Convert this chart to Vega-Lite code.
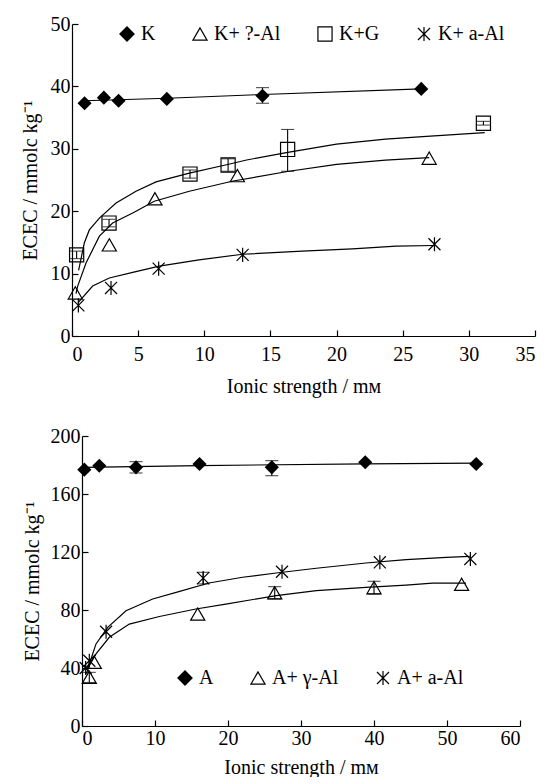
{
  "$schema": "https://vega.github.io/schema/vega-lite/v6.json",
  "background": "white",
  "padding": {"top": 14, "left": 20, "right": 6, "bottom": 0},
  "config": {
    "view": {"stroke": null},
    "font": "Liberation Serif",
    "axis": {
      "grid": false,
      "domainColor": "black", "domainWidth": 1.2,
      "tickColor": "black", "tickWidth": 1.2, "tickSize": -6,
      "labelColor": "black", "labelFont": "Liberation Serif", "labelFontSize": 20, "labelPadding": 8,
      "titleColor": "black", "titleFont": "Liberation Serif", "titleFontSize": 20, "titleFontWeight": "normal"
    },
    "legend": {
      "labelFont": "Liberation Serif", "labelFontSize": 20, "labelColor": "black",
      "symbolSize": 200, "symbolStrokeWidth": 1.2,
      "columnPadding": 34, "labelOffset": 4
    }
  },
  "datasets": {
    "topPts": [
      {"s": "K", "x": 0.95, "y": 37.3},
      {"s": "K", "x": 2.41, "y": 38.2},
      {"s": "K", "x": 3.52, "y": 37.7},
      {"s": "K", "x": 7.17, "y": 38.0},
      {"s": "K", "x": 14.4, "y": 38.5, "lo": 37.3, "hi": 39.8},
      {"s": "K", "x": 26.4, "y": 39.6},
      {"s": "K+ ?-Al", "x": 0.25, "y": 6.9},
      {"s": "K+ ?-Al", "x": 2.82, "y": 14.6},
      {"s": "K+ ?-Al", "x": 6.27, "y": 22.0},
      {"s": "K+ ?-Al", "x": 12.5, "y": 25.7},
      {"s": "K+ ?-Al", "x": 27.0, "y": 28.5},
      {"s": "K+G", "x": 0.35, "y": 13.0, "lo": 12.4, "hi": 13.6},
      {"s": "K+G", "x": 2.8, "y": 18.1, "lo": 17.5, "hi": 18.7},
      {"s": "K+G", "x": 8.92, "y": 25.95, "lo": 25.3, "hi": 26.6},
      {"s": "K+G", "x": 11.8, "y": 27.4, "lo": 26.4, "hi": 28.4},
      {"s": "K+G", "x": 16.3, "y": 29.9, "lo": 26.4, "hi": 33.1},
      {"s": "K+G", "x": 31.1, "y": 34.1, "lo": 33.8, "hi": 34.4},
      {"s": "K+ a-Al", "x": 0.48, "y": 4.9},
      {"s": "K+ a-Al", "x": 2.95, "y": 7.7},
      {"s": "K+ a-Al", "x": 6.55, "y": 10.8},
      {"s": "K+ a-Al", "x": 12.9, "y": 13.0},
      {"s": "K+ a-Al", "x": 27.4, "y": 14.7}
    ],
    "topFit": [
      {"s": "K", "x": 0.95, "y": 37.7},
      {"s": "K", "x": 7.2, "y": 38.1},
      {"s": "K", "x": 14.4, "y": 38.7},
      {"s": "K", "x": 26.4, "y": 39.6},
      {"s": "K+G", "x": 0.5, "y": 10.5},
      {"s": "K+G", "x": 0.93, "y": 14.9},
      {"s": "K+G", "x": 1.31, "y": 17.0},
      {"s": "K+G", "x": 2.07, "y": 18.9},
      {"s": "K+G", "x": 3.33, "y": 21.3},
      {"s": "K+G", "x": 4.84, "y": 23.2},
      {"s": "K+G", "x": 6.35, "y": 24.7},
      {"s": "K+G", "x": 8.87, "y": 26.1},
      {"s": "K+G", "x": 11.6, "y": 27.4},
      {"s": "K+G", "x": 13.2, "y": 28.2},
      {"s": "K+G", "x": 16.2, "y": 29.4},
      {"s": "K+G", "x": 20.0, "y": 30.75},
      {"s": "K+G", "x": 23.7, "y": 31.55},
      {"s": "K+G", "x": 26.8, "y": 32.0},
      {"s": "K+G", "x": 31.2, "y": 32.6},
      {"s": "K+ ?-Al", "x": 0.3, "y": 6.8},
      {"s": "K+ ?-Al", "x": 0.43, "y": 8.0},
      {"s": "K+ ?-Al", "x": 1.06, "y": 11.7},
      {"s": "K+ ?-Al", "x": 2.07, "y": 16.0},
      {"s": "K+ ?-Al", "x": 3.07, "y": 18.1},
      {"s": "K+ ?-Al", "x": 4.59, "y": 19.7},
      {"s": "K+ ?-Al", "x": 6.22, "y": 21.6},
      {"s": "K+ ?-Al", "x": 8.87, "y": 23.2},
      {"s": "K+ ?-Al", "x": 12.1, "y": 24.8},
      {"s": "K+ ?-Al", "x": 16.4, "y": 26.4},
      {"s": "K+ ?-Al", "x": 20.0, "y": 27.5},
      {"s": "K+ ?-Al", "x": 23.7, "y": 28.2},
      {"s": "K+ ?-Al", "x": 27.0, "y": 28.6},
      {"s": "K+ a-Al", "x": 0.45, "y": 5.3},
      {"s": "K+ a-Al", "x": 1.56, "y": 8.0},
      {"s": "K+ a-Al", "x": 2.82, "y": 9.3},
      {"s": "K+ a-Al", "x": 4.59, "y": 10.2},
      {"s": "K+ a-Al", "x": 6.6, "y": 11.2},
      {"s": "K+ a-Al", "x": 9.6, "y": 12.2},
      {"s": "K+ a-Al", "x": 12.9, "y": 13.1},
      {"s": "K+ a-Al", "x": 17.4, "y": 13.6},
      {"s": "K+ a-Al", "x": 21.2, "y": 13.95},
      {"s": "K+ a-Al", "x": 24.5, "y": 14.4},
      {"s": "K+ a-Al", "x": 27.4, "y": 14.5}
    ],
    "botPts": [
      {"s": "A", "x": 0.32, "y": 176.8},
      {"s": "A", "x": 2.37, "y": 179.5},
      {"s": "A", "x": 7.4, "y": 178.4, "lo": 174.5, "hi": 182.3},
      {"s": "A", "x": 16.1, "y": 180.7},
      {"s": "A", "x": 26.0, "y": 178.4, "lo": 172.6, "hi": 183.0},
      {"s": "A", "x": 38.8, "y": 181.9},
      {"s": "A", "x": 54.0, "y": 180.7},
      {"s": "A+ γ-Al", "x": 1.0, "y": 33.6, "lo": 30.0, "hi": 37.0},
      {"s": "A+ γ-Al", "x": 1.68, "y": 43.9},
      {"s": "A+ γ-Al", "x": 15.85, "y": 77.2},
      {"s": "A+ γ-Al", "x": 26.4, "y": 91.9, "lo": 87.6, "hi": 96.1},
      {"s": "A+ γ-Al", "x": 40.0, "y": 95.4, "lo": 91.0, "hi": 99.8},
      {"s": "A+ γ-Al", "x": 52.0, "y": 97.7},
      {"s": "A+ a-Al", "x": 0.5, "y": 40.0},
      {"s": "A+ a-Al", "x": 1.0, "y": 45.0},
      {"s": "A+ a-Al", "x": 3.3, "y": 65.0},
      {"s": "A+ a-Al", "x": 16.6, "y": 102.0, "lo": 98.0, "hi": 106.0},
      {"s": "A+ a-Al", "x": 27.4, "y": 106.4},
      {"s": "A+ a-Al", "x": 40.8, "y": 112.9},
      {"s": "A+ a-Al", "x": 53.2, "y": 115.2}
    ],
    "botFit": [
      {"s": "A", "x": 0.32, "y": 178.3},
      {"s": "A", "x": 16.0, "y": 179.6},
      {"s": "A", "x": 38.8, "y": 180.8},
      {"s": "A", "x": 54.0, "y": 181.3},
      {"s": "A+ a-Al", "x": 0.6, "y": 39.0},
      {"s": "A+ a-Al", "x": 1.23, "y": 46.2},
      {"s": "A+ a-Al", "x": 1.92, "y": 56.6},
      {"s": "A+ a-Al", "x": 3.52, "y": 68.0},
      {"s": "A+ a-Al", "x": 6.03, "y": 79.5},
      {"s": "A+ a-Al", "x": 9.68, "y": 87.6},
      {"s": "A+ a-Al", "x": 12.9, "y": 92.2},
      {"s": "A+ a-Al", "x": 17.4, "y": 98.6},
      {"s": "A+ a-Al", "x": 22.0, "y": 102.6},
      {"s": "A+ a-Al", "x": 26.6, "y": 105.5},
      {"s": "A+ a-Al", "x": 32.1, "y": 108.8},
      {"s": "A+ a-Al", "x": 38.9, "y": 112.4},
      {"s": "A+ a-Al", "x": 44.4, "y": 114.7},
      {"s": "A+ a-Al", "x": 49.9, "y": 116.3},
      {"s": "A+ a-Al", "x": 53.1, "y": 117.0},
      {"s": "A+ γ-Al", "x": 0.6, "y": 36.0},
      {"s": "A+ γ-Al", "x": 1.0, "y": 41.6},
      {"s": "A+ γ-Al", "x": 1.92, "y": 49.7},
      {"s": "A+ γ-Al", "x": 3.74, "y": 61.2},
      {"s": "A+ γ-Al", "x": 6.48, "y": 70.3},
      {"s": "A+ γ-Al", "x": 10.6, "y": 75.5},
      {"s": "A+ γ-Al", "x": 15.6, "y": 80.7},
      {"s": "A+ γ-Al", "x": 19.7, "y": 84.1},
      {"s": "A+ γ-Al", "x": 26.6, "y": 89.9},
      {"s": "A+ γ-Al", "x": 32.1, "y": 93.3},
      {"s": "A+ γ-Al", "x": 38.9, "y": 95.6},
      {"s": "A+ γ-Al", "x": 44.4, "y": 97.2},
      {"s": "A+ γ-Al", "x": 48.0, "y": 98.6},
      {"s": "A+ γ-Al", "x": 52.6, "y": 98.6}
    ]
  },
  "concat": [
    {
      "width": 463, "height": 312,
      "encoding": {
        "x": {"field": "x", "type": "quantitative", "scale": {"domain": [0, 35], "nice": false, "zero": false},
              "axis": {"values": [0, 5, 10, 15, 20, 25, 30, 35], "title": "Ionic strength / mᴍ", "labelPadding": 14, "titlePadding": 12}},
        "y": {"field": "y", "type": "quantitative", "scale": {"domain": [0, 50], "nice": false},
              "axis": {"values": [0, 10, 20, 30, 40, 50], "title": "ECEC / mmolc kg⁻¹", "titlePadding": 10}}
      },
      "layer": [
        {"data": {"name": "topFit"}, "mark": {"type": "line", "color": "black", "strokeWidth": 1.2},
         "encoding": {"detail": {"field": "s"}, "order": {"field": "x", "type": "quantitative"}}},
        {"data": {"name": "topPts"}, "transform": [{"filter": "datum.lo != null"}],
         "mark": {"type": "rule", "color": "black", "strokeWidth": 1.1},
         "encoding": {"y": {"field": "lo", "type": "quantitative"}, "y2": {"field": "hi"}}},
        {"data": {"name": "topPts"}, "transform": [{"filter": "datum.lo != null"}],
         "mark": {"type": "tick", "orient": "horizontal", "color": "black", "size": 13, "thickness": 1.1},
         "encoding": {"y": {"field": "lo", "type": "quantitative"}}},
        {"data": {"name": "topPts"}, "transform": [{"filter": "datum.lo != null"}],
         "mark": {"type": "tick", "orient": "horizontal", "color": "black", "size": 13, "thickness": 1.1},
         "encoding": {"y": {"field": "hi", "type": "quantitative"}}},
        {"data": {"name": "topPts"}, "transform": [{"filter": "datum.s !== 'K'"}],
         "mark": {"type": "point", "filled": false, "color": "black", "size": 200, "strokeWidth": 1.2, "opacity": 1},
         "encoding": {
           "shape": {"field": "s", "type": "nominal",
             "scale": {"domain": ["K", "K+ ?-Al", "K+G", "K+ a-Al"],
                       "range": ["M-1,0L0,-1L1,0L0,1ZM-0.85,0L0,-0.85L0.85,0L0,0.85ZM-0.7,0L0,-0.7L0.7,0L0,0.7ZM-0.55,0L0,-0.55L0.55,0L0,0.55ZM-0.4,0L0,-0.4L0.4,0L0,0.4ZM-0.25,0L0,-0.25L0.25,0L0,0.25ZM-0.1,0L0,-0.1L0.1,0L0,0.1Z", "triangle-up", "square", "M0,-1L0,1M-0.85,-0.85L0.85,0.85M-0.85,0.85L0.85,-0.85"]},
             "legend": {"title": null, "orient": "none", "direction": "horizontal", "legendX": 45, "legendY": 0,
                        "encode": {"symbols": {
                          "fill": {"condition": {"test": "datum.value === 'K'", "value": "black"}, "value": "white"},
                          "stroke": {"value": "black"}}}}}
         }},
        {"data": {"name": "topPts"}, "transform": [{"filter": "datum.s === 'K'"}],
         "mark": {"type": "point", "filled": true, "color": "black", "size": 200, "opacity": 1},
         "encoding": {
           "shape": {"field": "s", "type": "nominal",
             "scale": {"domain": ["K", "K+ ?-Al", "K+G", "K+ a-Al"],
                       "range": ["M-1,0L0,-1L1,0L0,1ZM-0.85,0L0,-0.85L0.85,0L0,0.85ZM-0.7,0L0,-0.7L0.7,0L0,0.7ZM-0.55,0L0,-0.55L0.55,0L0,0.55ZM-0.4,0L0,-0.4L0.4,0L0,0.4ZM-0.25,0L0,-0.25L0.25,0L0,0.25ZM-0.1,0L0,-0.1L0.1,0L0,0.1Z", "triangle-up", "square", "M0,-1L0,1M-0.85,-0.85L0.85,0.85M-0.85,0.85L0.85,-0.85"]},
             "legend": null}
         }}
      ]
    },
    {
      "width": 448, "height": 290,
      "encoding": {
        "x": {"field": "x", "type": "quantitative", "scale": {"domain": [0, 60], "nice": false, "zero": false, "range": [10, 448]},
              "axis": {"values": [0, 10, 20, 30, 40, 50, 60], "title": "Ionic strength / mᴍ", "titlePadding": 9}},
        "y": {"field": "y", "type": "quantitative", "scale": {"domain": [0, 200], "nice": false},
              "axis": {"values": [0, 40, 80, 120, 160, 200], "title": "ECEC / mmolc kg⁻¹", "titlePadding": 8, "offset": -10}}
      },
      "layer": [
        {"data": {"name": "botFit"}, "mark": {"type": "line", "color": "black", "strokeWidth": 1.2},
         "encoding": {"detail": {"field": "s"}, "order": {"field": "x", "type": "quantitative"}}},
        {"data": {"name": "botPts"}, "transform": [{"filter": "datum.lo != null"}],
         "mark": {"type": "rule", "color": "black", "strokeWidth": 1.1},
         "encoding": {"y": {"field": "lo", "type": "quantitative"}, "y2": {"field": "hi"}}},
        {"data": {"name": "botPts"}, "transform": [{"filter": "datum.lo != null"}],
         "mark": {"type": "tick", "orient": "horizontal", "color": "black", "size": 13, "thickness": 1.1},
         "encoding": {"y": {"field": "lo", "type": "quantitative"}}},
        {"data": {"name": "botPts"}, "transform": [{"filter": "datum.lo != null"}],
         "mark": {"type": "tick", "orient": "horizontal", "color": "black", "size": 13, "thickness": 1.1},
         "encoding": {"y": {"field": "hi", "type": "quantitative"}}},
        {"data": {"name": "botPts"}, "transform": [{"filter": "datum.s !== 'A'"}],
         "mark": {"type": "point", "filled": false, "color": "black", "size": 200, "strokeWidth": 1.2, "opacity": 1},
         "encoding": {
           "shape": {"field": "s", "type": "nominal",
             "scale": {"domain": ["A", "A+ γ-Al", "A+ a-Al"],
                       "range": ["M-1,0L0,-1L1,0L0,1ZM-0.85,0L0,-0.85L0.85,0L0,0.85ZM-0.7,0L0,-0.7L0.7,0L0,0.7ZM-0.55,0L0,-0.55L0.55,0L0,0.55ZM-0.4,0L0,-0.4L0.4,0L0,0.4ZM-0.25,0L0,-0.25L0.25,0L0,0.25ZM-0.1,0L0,-0.1L0.1,0L0,0.1Z", "triangle-up", "M0,-1L0,1M-0.85,-0.85L0.85,0.85M-0.85,0.85L0.85,-0.85"]},
             "legend": {"title": null, "orient": "none", "direction": "horizontal", "legendX": 103, "legendY": 232,
                        "encode": {"symbols": {
                          "fill": {"condition": {"test": "datum.value === 'A'", "value": "black"}, "value": "white"},
                          "stroke": {"value": "black"}}}}}
         }},
        {"data": {"name": "botPts"}, "transform": [{"filter": "datum.s === 'A'"}],
         "mark": {"type": "point", "filled": true, "color": "black", "size": 200, "opacity": 1},
         "encoding": {
           "shape": {"field": "s", "type": "nominal",
             "scale": {"domain": ["A", "A+ γ-Al", "A+ a-Al"],
                       "range": ["M-1,0L0,-1L1,0L0,1ZM-0.85,0L0,-0.85L0.85,0L0,0.85ZM-0.7,0L0,-0.7L0.7,0L0,0.7ZM-0.55,0L0,-0.55L0.55,0L0,0.55ZM-0.4,0L0,-0.4L0.4,0L0,0.4ZM-0.25,0L0,-0.25L0.25,0L0,0.25ZM-0.1,0L0,-0.1L0.1,0L0,0.1Z", "triangle-up", "M0,-1L0,1M-0.85,-0.85L0.85,0.85M-0.85,0.85L0.85,-0.85"]},
             "legend": null}
         }}
      ],
      "resolve": {"scale": {"shape": "independent"}}
    }
  ],
  "columns": 1,
  "spacing": 30,
  "resolve": {"scale": {"shape": "independent", "x": "independent", "y": "independent"}}
}
